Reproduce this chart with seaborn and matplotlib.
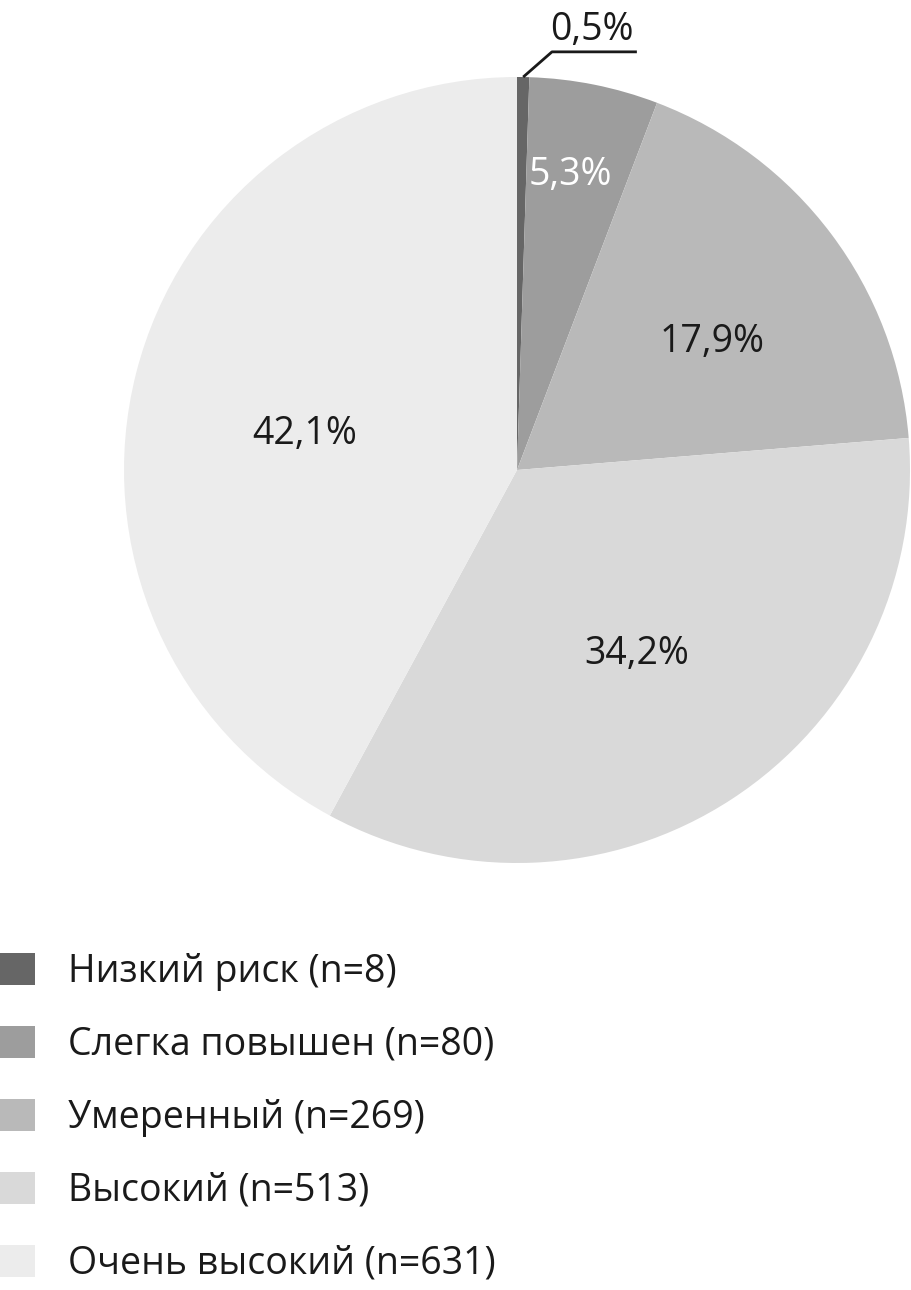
import matplotlib
matplotlib.use("Agg")
import matplotlib.pyplot as plt
import numpy as np
import seaborn as sns

sns.set_theme(style="white")
plt.rcParams['font.family'] = ['Open Sans', 'DejaVu Sans']

categories = ["Низкий риск (n=8)", "Слегка повышен (n=80)", "Умеренный (n=269)",
              "Высокий (n=513)", "Очень высокий (n=631)"]
percents = [0.5, 5.3, 17.9, 34.2, 42.1]
pct_labels = ["0,5%", "5,3%", "17,9%", "34,2%", "42,1%"]
colors = ["#666666", "#9d9d9d", "#b9b9b9", "#d9d9d9", "#ececec"]
label_colors = ["#1a1a1a", "#ffffff", "#1a1a1a", "#1a1a1a", "#1a1a1a"]
label_radius = [None, 0.775, 0.60, 0.55, 0.55]
label_shift = [0, 1.3, -2.6, 0.6, 3.5]  # degrees (math direction)

W, H = 911, 1290
fig = plt.figure(figsize=(W / 100, H / 100), dpi=100)
fig.patch.set_facecolor("white")

cx, cy, R = 517, 470, 393
ax = fig.add_axes([(cx - R) / W, (H - cy - R) / H, 2 * R / W, 2 * R / H])

wedges, _ = ax.pie(percents, colors=colors, startangle=90, counterclock=False,
                   radius=1.0, wedgeprops=dict(linewidth=0))
ax.set_xlim(-1, 1)
ax.set_ylim(-1, 1)
ax.set_aspect("equal")
ax.axis("off")

fs = 27
for i, w in enumerate(wedges):
    ang = np.deg2rad((w.theta1 + w.theta2) / 2 + label_shift[i])
    if label_radius[i] is None:
        x0, y0 = np.cos(ang), np.sin(ang)
        ax.plot([x0, 0.089, 0.305], [y0, 1.064, 1.064], color="#1a1a1a",
                lw=2, clip_on=False, solid_capstyle="butt")
        ax.text(0.19, 1.094, pct_labels[i], ha="center", va="baseline",
                fontsize=fs, color=label_colors[i], clip_on=False)
    else:
        r = label_radius[i]
        ax.text(r * np.cos(ang), r * np.sin(ang), pct_labels[i], ha="center",
                va="center_baseline", fontsize=fs, color=label_colors[i])

leg = fig.legend(wedges, categories, loc="upper left",
                 bbox_to_anchor=(0.0, 1 - 953 / H), frameon=False,
                 fontsize=fs, handlelength=0.93, handleheight=0.93,
                 handletextpad=0.88, labelspacing=0.93, borderpad=0,
                 borderaxespad=0)
for t in leg.get_texts():
    t.set_color("#1a1a1a")

fig.savefig("out.png", dpi=100, facecolor="white")
